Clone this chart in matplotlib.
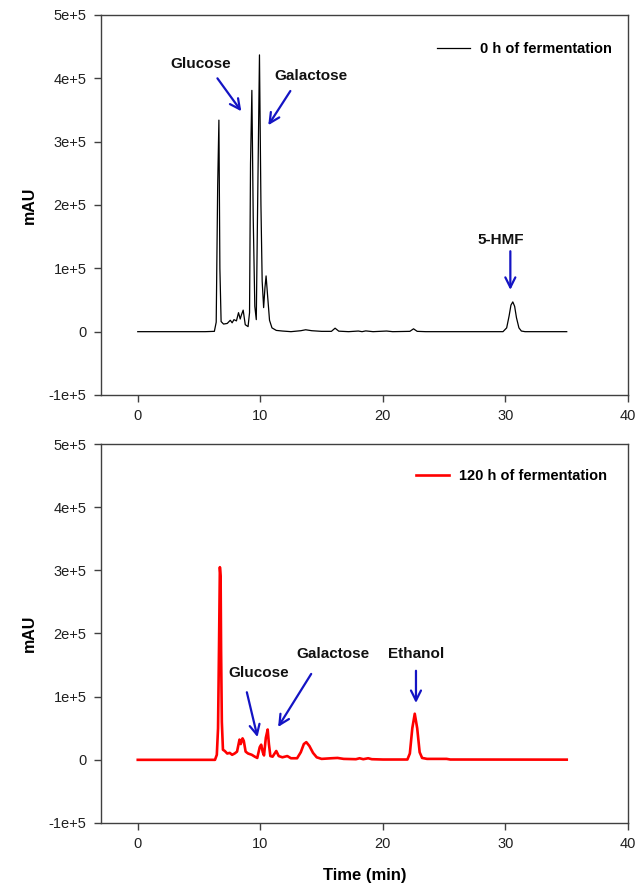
import matplotlib
matplotlib.use("Agg")
import matplotlib.pyplot as plt

plt.rcParams['font.family'] = ['Liberation Sans', 'DejaVu Sans']

# --- dati letti dal cromatogramma ---
# 0 h di fermentazione (traccia nera)
t_0h = [0, 5.5, 6.25, 6.4, 6.52, 6.62, 6.7, 6.8, 7.0, 7.3, 7.55, 7.7, 7.85, 8.05,
        8.22, 8.36, 8.45, 8.6, 8.77, 9.0, 9.12, 9.2, 9.31, 9.42, 9.55, 9.67, 9.78,
        9.93, 10.05, 10.15, 10.27, 10.38, 10.47, 10.58, 10.75, 10.95, 11.3, 11.8,
        12.5, 13.3, 13.7, 14.2, 15.0, 15.8, 16.1, 16.4, 17.2, 18.0, 18.3, 18.6,
        19.2, 20.3, 20.8, 22.2, 22.5, 22.8, 23.5, 29.8, 30.1, 30.3, 30.45, 30.6,
        30.75, 30.9, 31.1, 31.3, 31.6, 35.0]
mau_0h = [0, 0, 500, 15000, 230000, 334000, 100000, 16000, 12000, 13000, 18000,
          14000, 19000, 17000, 30000, 20000, 26000, 34000, 11000, 8000, 30000,
          265000, 381000, 180000, 40000, 19000, 200000, 437000, 200000, 80000,
          38000, 70000, 88000, 60000, 18000, 6000, 2000, 1000, 0, 1500, 3000,
          1500, 500, 500, 5500, 800, 0, 1000, 0, 1200, 0, 1000, 0, 500, 4500, 500,
          0, 0, 6000, 25000, 42000, 47000, 40000, 22000, 6000, 1000, 0, 0]

# 120 h di fermentazione (traccia rossa)
t_120h = [0, 6.3, 6.45, 6.55, 6.63, 6.7, 6.76, 6.8, 6.86, 6.95, 7.1, 7.3, 7.5, 7.7,
          7.9, 8.1, 8.3, 8.4, 8.55, 8.65, 8.8, 9.0, 9.3, 9.55, 9.75, 9.95, 10.07,
          10.2, 10.3, 10.45, 10.6, 10.7, 10.82, 11.0, 11.3, 11.5, 11.8, 12.2, 12.5,
          13.0, 13.3, 13.55, 13.75, 14.0, 14.3, 14.6, 15.0, 15.8, 16.3, 16.8, 17.8,
          18.1, 18.4, 18.8, 19.1, 20.0, 22.0, 22.2, 22.4, 22.6, 22.8, 23.0, 23.2,
          23.6, 25.2, 25.5, 35.0]
mau_120h = [0, 0, 8000, 50000, 180000, 305000, 290000, 170000, 60000, 16000, 14000,
            10000, 11000, 8000, 10000, 13000, 32000, 25000, 34000, 30000, 13000,
            10000, 8000, 5000, 3000, 20000, 24000, 12000, 7000, 35000, 48000, 25000,
            6000, 5000, 14000, 6000, 4000, 6000, 2500, 2500, 12000, 25000, 28000,
            22000, 11000, 4000, 1500, 2500, 3000, 1500, 1000, 2500, 1000, 2500, 1000,
            500, 500, 10000, 50000, 73000, 50000, 12000, 3000, 1500, 1500, 500, 300]

y_ticks = [-1e5, 0, 1e5, 2e5, 3e5, 4e5, 5e5]
y_tick_labels = ['-1e+5', '0', '1e+5', '2e+5', '3e+5', '4e+5', '5e+5']
x_ticks = [0, 10, 20, 30, 40]

# annotazioni: testo, posizione testo, inizio freccia, punta freccia
note_0h = [("Glucose", (5.1, 4.22e5), (6.5, 4.0e5), (8.45, 3.48e5)),
           ("Galactose", (14.1, 4.04e5), (12.45, 3.8e5), (10.65, 3.26e5)),
           ("5-HMF", (29.6, 1.45e5), (30.4, 1.27e5), (30.4, 0.66e5))]
note_120h = [("Glucose", (9.9, 1.37e5), (8.9, 1.07e5), (9.77, 0.36e5)),
             ("Galactose", (15.95, 1.67e5), (14.15, 1.36e5), (11.45, 0.52e5)),
             ("Ethanol", (22.75, 1.68e5), (22.7, 1.41e5), (22.7, 0.9e5))]

BLU = '#1414c4'


def prepara_asse(ax, legenda_x, legenda_y):
    ax.set_xlim(-3, 40)
    ax.set_ylim(-1e5, 5e5)
    ax.set_xticks(x_ticks)
    ax.set_xticklabels([str(v) for v in x_ticks])
    ax.set_yticks(y_ticks)
    ax.set_yticklabels(y_tick_labels)
    for s in ax.spines.values():
        s.set_color('#404040')
        s.set_linewidth(1.0)
    ax.tick_params(axis='both', direction='out', length=5, width=1.0,
                   color='#404040', labelsize=10.5, labelcolor='#202020')
    ax.tick_params(axis='y', pad=5.5)
    ax.tick_params(axis='x', pad=5)
    ax.set_ylabel('mAU', fontsize=11.5, fontweight='bold')
    ax.yaxis.set_label_coords(-0.121, 0.5)
    ax.legend(loc='upper right', bbox_to_anchor=(legenda_x, legenda_y),
              borderaxespad=0, frameon=False, handlelength=2.25,
              handletextpad=0.7, prop={'size': 10.5, 'weight': 'bold'})


def annota(ax, note):
    for testo, pos, inizio, punta in note:
        ax.text(pos[0], pos[1], testo, ha='center', va='center',
                fontsize=11, fontweight='bold', color='#111111')
        ax.annotate('', xy=punta, xytext=inizio,
                    arrowprops=dict(arrowstyle='->', color=BLU, lw=1.6,
                                    mutation_scale=18, shrinkA=0, shrinkB=0))


fig = plt.figure(figsize=(6.43, 8.86), dpi=100)
ax1 = fig.add_axes([101 / 643, 1 - 395 / 886, 527 / 643, 380 / 886])
ax2 = fig.add_axes([101 / 643, 1 - 823 / 886, 527 / 643, 379 / 886])

# Grafico 1: 0 h
ax1.plot(t_0h, mau_0h, color='black', linewidth=0.9, label='0 h of fermentation')
prepara_asse(ax1, 0.981, 0.945)
annota(ax1, note_0h)

# Grafico 2: 120 h
ax2.plot(t_120h, mau_120h, color='red', linewidth=1.9, label='120 h of fermentation')
prepara_asse(ax2, 0.972, 0.95)
annota(ax2, note_120h)
ax2.set_xlabel('Time (min)', fontsize=12, fontweight='bold')
ax2.xaxis.set_label_coords(0.5, -0.119)

fig.savefig('out.png', dpi=100)
